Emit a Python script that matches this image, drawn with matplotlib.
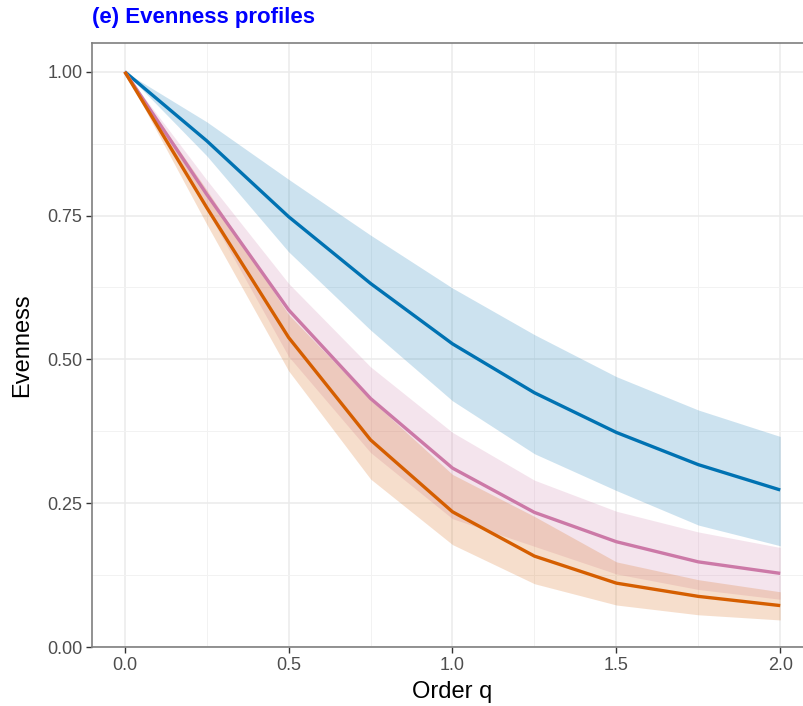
import numpy as np
import matplotlib
matplotlib.use("Agg")
import matplotlib.pyplot as plt
from matplotlib.ticker import MultipleLocator

plt.rcParams["font.family"] = ["Liberation Sans", "DejaVu Sans"]

# ── data ────────────────────────────────────────────────────────────────────
order_q = [0.0, 0.25, 0.5, 0.75, 1.0, 1.25, 1.5, 1.75, 2.0]

blue_mean = [1.0, 0.880, 0.748, 0.632, 0.527, 0.442, 0.373, 0.317, 0.273]
blue_lo   = [1.0, 0.854, 0.687, 0.551, 0.428, 0.336, 0.272, 0.212, 0.176]
blue_hi   = [1.0, 0.913, 0.813, 0.716, 0.624, 0.543, 0.470, 0.412, 0.366]

pink_mean = [1.0, 0.787, 0.586, 0.432, 0.311, 0.234, 0.183, 0.148, 0.128]
pink_lo   = [1.0, 0.760, 0.505, 0.338, 0.223, 0.175, 0.127, 0.100, 0.083]
pink_hi   = [1.0, 0.812, 0.632, 0.487, 0.373, 0.290, 0.236, 0.200, 0.173]

orange_mean = [1.0, 0.764, 0.538, 0.360, 0.235, 0.158, 0.111, 0.088, 0.072]
orange_lo   = [1.0, 0.735, 0.480, 0.292, 0.178, 0.110, 0.073, 0.056, 0.047]
orange_hi   = [1.0, 0.795, 0.578, 0.430, 0.300, 0.227, 0.148, 0.117, 0.096]

x_ticks = [0.0, 0.5, 1.0, 1.5, 2.0]
x_tick_labels = ["0.0", "0.5", "1.0", "1.5", "2.0"]
y_ticks = [0.0, 0.25, 0.5, 0.75, 1.0]
y_tick_labels = ["0.00", "0.25", "0.50", "0.75", "1.00"]

series = [
    (blue_mean, blue_lo, blue_hi, "#0072B2"),
    (pink_mean, pink_lo, pink_hi, "#CC79A7"),
    (orange_mean, orange_lo, orange_hi, "#D55E00"),
]

# ── figure ──────────────────────────────────────────────────────────────────
fig = plt.figure(figsize=(8.04, 7.06), dpi=100)
# panel runs past the right edge of the picture, as in the reference
ax = fig.add_axes([92 / 804, 59 / 706, 721 / 804, 604 / 706])

for mean, lo, hi, color in series:
    ax.fill_between(order_q, lo, hi, color=color, alpha=0.2, linewidth=0, zorder=2)

for mean, lo, hi, color in series:
    ax.plot(order_q, mean, color=color, linewidth=2.4,
            solid_joinstyle="round", solid_capstyle="butt", zorder=3)

ax.xaxis.set_minor_locator(MultipleLocator(0.25))
ax.yaxis.set_minor_locator(MultipleLocator(0.125))
ax.set_xticks(x_ticks)
ax.set_xticklabels(x_tick_labels)
ax.set_yticks(y_ticks)
ax.set_yticklabels(y_tick_labels)
ax.set_xlim(-0.1, 2.1)
ax.set_ylim(0, 1.05)

ax.grid(which="major", color="#EBEBEB", linewidth=1.1, zorder=0)
ax.grid(which="minor", color="#F2F2F2", linewidth=0.7, zorder=0)
ax.set_axisbelow(True)

for sp in ax.spines.values():
    sp.set_color("#7F7F7F")
    sp.set_linewidth(1.2)

ax.tick_params(which="major", length=4, width=1.0, color="#333333",
               labelsize=13, labelcolor="#4D4D4D", pad=3)
ax.tick_params(which="minor", length=0)

ax.set_xlabel("Order q", fontsize=17, color="black", labelpad=5)
ax.set_ylabel("Evenness", fontsize=17, color="black", labelpad=10)

fig.text(92 / 804, 1 - 18 / 706, "(e) Evenness profiles", color="#0000FF",
         fontsize=16, fontweight="bold", ha="left", va="center")

fig.savefig("out.png", dpi=100)
